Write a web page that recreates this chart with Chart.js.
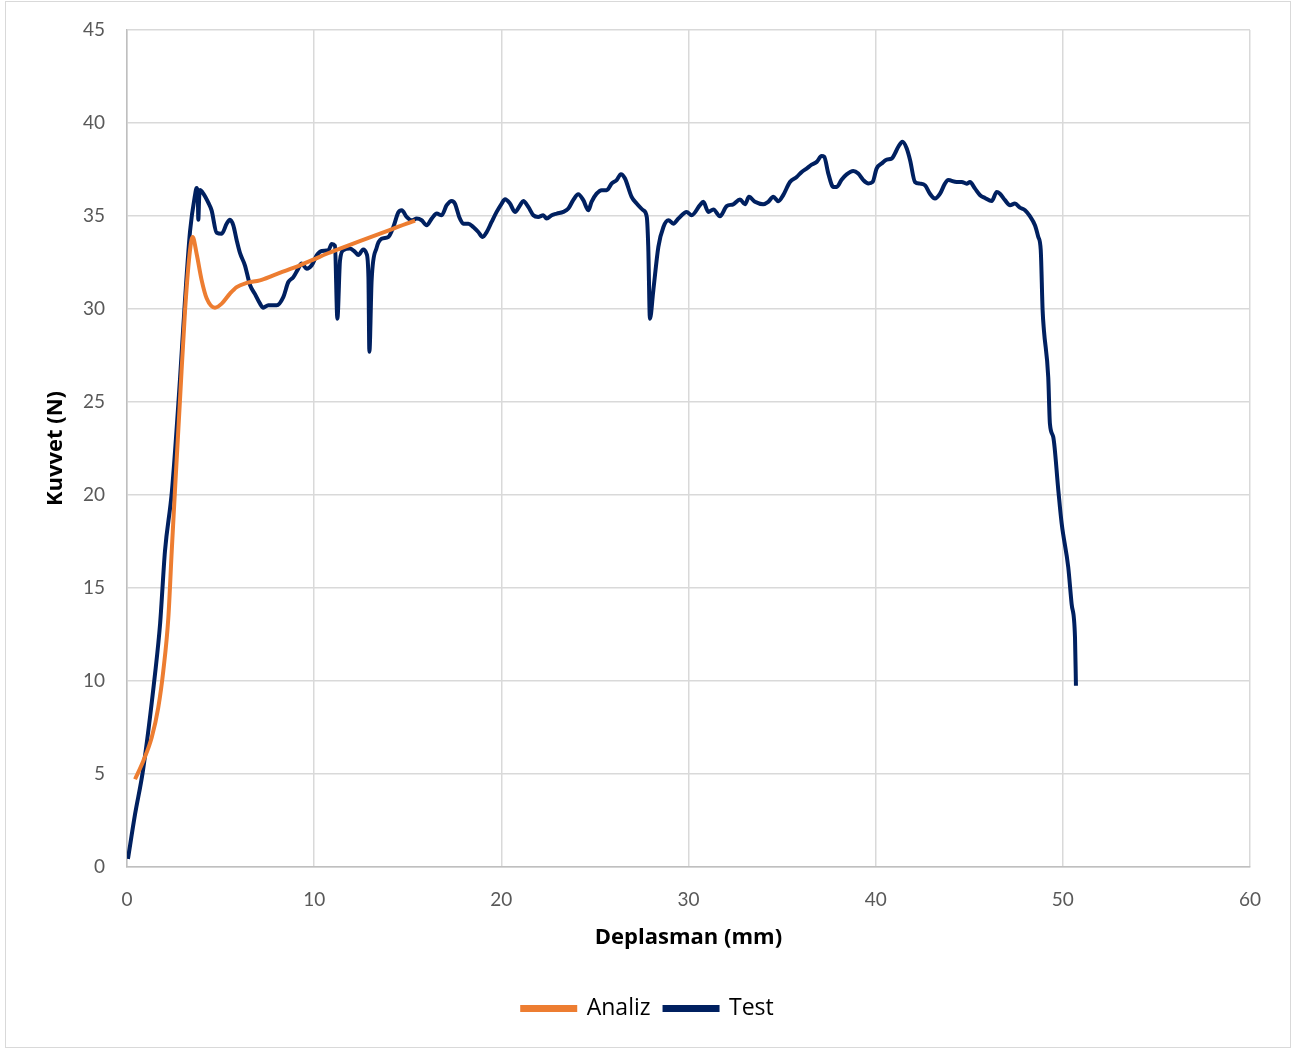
<!DOCTYPE html>
<html>
<head>
<meta charset="utf-8">
<script src="https://cdn.jsdelivr.net/npm/chart.js@4/dist/chart.umd.min.js"></script>
<style>
  html, body { margin: 0; padding: 0; background: #fff; }
  #box { position: absolute; left: 5px; top: 1px; width: 1284px; height: 1045px; border: 1px solid #d9d9d9; }
  canvas { display: block; }
</style>
</head>
<body>
<div id="box"><canvas id="chart" width="1284" height="1045"></canvas></div>
<script>
// Deplasman (mm) / Kuvvet (N)
const analizX = [0.43, 0.87, 1.32, 1.67, 1.94, 2.21, 2.39, 2.56, 2.83, 3.1, 3.37, 3.51, 3.72, 3.99, 4.26, 4.7,
  5.06, 5.5, 5.86, 6.39, 7.1, 7.82, 8.53, 9.24, 9.95, 10.67, 11.38, 12.09, 12.8, 13.52, 14.23, 14.94, 15.39];
const analizY = [4.72, 5.7, 6.96, 8.57, 10.55, 13.42, 17.0, 20.2, 25.1, 29.9, 33.2, 33.87, 32.97, 31.54, 30.56, 30.07,
  30.29, 30.83, 31.18, 31.4, 31.54, 31.81, 32.08, 32.35, 32.65, 32.97, 33.25, 33.52, 33.78, 34.05, 34.32, 34.59, 34.75];

const testX = [0.05, 0.43, 0.85, 1.5, 1.77, 2.03, 2.4, 2.83, 3.1, 3.37, 3.63, 3.72, 3.78, 3.81, 3.86, 3.9, 4.08, 4.35,
  4.52, 4.79, 5.06, 5.33, 5.5, 5.68, 5.86, 6.04, 6.3, 6.57, 6.84, 7.1, 7.28, 7.55, 8.0, 8.35, 8.62, 8.88, 9.15,
  9.33, 9.6, 9.87, 10.14, 10.4, 10.76, 10.94, 11.11, 11.24, 11.38, 11.56, 11.91, 12.18, 12.36, 12.62, 12.8, 12.9,
  12.95, 13.07, 13.34, 13.6, 13.96, 14.23, 14.5, 14.68, 14.94, 15.21, 15.48, 15.74, 16.01, 16.28, 16.55, 16.81,
  17.08, 17.35, 17.52, 17.75, 17.97, 18.24, 18.5, 18.77, 19.0, 19.22, 19.48, 19.75, 20.02, 20.2, 20.46, 20.73,
  21.0, 21.17, 21.44, 21.71, 21.97, 22.24, 22.42, 22.69, 22.96, 23.31, 23.58, 23.84, 24.11, 24.38, 24.65, 24.82,
  25.09, 25.36, 25.63, 25.9, 26.16, 26.39, 26.6, 26.96, 27.23, 27.58, 27.77, 27.85, 27.94, 28.12, 28.39, 28.66,
  28.93, 29.19, 29.46, 29.9, 30.17, 30.61, 30.79, 31.06, 31.33, 31.68, 32.04, 32.39, 32.75, 33.02, 33.23, 33.55,
  33.99, 34.26, 34.53, 34.8, 35.06, 35.42, 35.78, 36.05, 36.31, 36.58, 36.85, 37.11, 37.25, 37.47, 37.74, 37.92,
  38.18, 38.45, 38.8, 39.07, 39.34, 39.61, 39.84, 40.05, 40.32, 40.59, 40.86, 41.03, 41.21, 41.43, 41.66, 41.84,
  42.1, 42.37, 42.64, 42.9, 43.17, 43.44, 43.7, 43.88, 44.33, 44.6, 44.86, 45.04, 45.31, 45.58, 45.84, 46.2,
  46.47, 46.64, 46.91, 47.18, 47.44, 47.71, 47.98, 48.24, 48.51, 48.69, 48.82, 48.92, 48.99, 49.22, 49.31, 49.49,
  49.76, 49.94, 50.29, 50.47, 50.65, 50.7];
const testY = [0.43, 2.84, 5.17, 10.4, 13.1, 17.0, 20.2, 26.2, 30.5, 34.2, 36.1, 36.5, 36.3, 34.8, 36.1, 36.4, 36.2, 35.7,
  35.3, 34.1, 34.05, 34.6, 34.8, 34.5, 33.7, 33.0, 32.35, 31.3, 30.8, 30.3, 30.07, 30.2, 30.2, 30.64, 31.45, 31.7, 32.17,
  32.44, 32.17, 32.35, 32.89, 33.12, 33.16, 33.5, 33.4, 29.48, 32.6, 33.16, 33.25, 33.07, 32.9, 33.2, 32.97, 31.7,
  27.7, 31.54, 33.3, 33.78, 33.87, 34.41, 35.2, 35.31, 34.95, 34.77, 34.86, 34.77, 34.5, 34.86, 35.13, 35.04,
  35.58, 35.81, 35.67, 34.95, 34.59, 34.59, 34.41, 34.14, 33.87, 34.14, 34.68, 35.22, 35.67, 35.9, 35.67, 35.22,
  35.58, 35.81, 35.49, 35.04, 34.95, 35.04, 34.86, 35.04, 35.13, 35.22, 35.4, 35.85, 36.17, 35.85, 35.31, 35.76,
  36.2, 36.39, 36.39, 36.75, 36.93, 37.25, 37.03, 36.03, 35.67, 35.31, 34.95, 33.34, 29.48, 31.0, 33.34, 34.41,
  34.77, 34.59, 34.86, 35.22, 35.04, 35.58, 35.76, 35.22, 35.35, 34.99, 35.53, 35.63, 35.89, 35.63, 36.03, 35.76,
  35.63, 35.76, 36.03, 35.79, 36.12, 36.83, 37.1, 37.37, 37.55, 37.76, 37.91, 38.22, 38.18, 37.28, 36.56, 36.56,
  36.95, 37.24, 37.42, 37.28, 36.93, 36.75, 36.83, 37.55, 37.82, 38.03, 38.09, 38.36, 38.72, 38.99, 38.63, 38.0,
  36.83, 36.74, 36.65, 36.2, 35.94, 36.2, 36.74, 36.93, 36.83, 36.83, 36.74, 36.83, 36.47, 36.12, 35.97, 35.81,
  36.29, 36.2, 35.85, 35.58, 35.67, 35.45, 35.31, 34.99, 34.5, 33.87, 33.16, 29.93, 28.85, 26.34, 23.83, 23.11,
  20.24, 18.45, 16.11, 14.14, 12.34, 9.74];

const xTicks = [0, 10, 20, 30, 40, 50, 60];
const yTicks = [0, 5, 10, 15, 20, 25, 30, 35, 40, 45];

const toPoints = (xs, ys) => xs.map((x, i) => ({ x: x, y: ys[i] }));
const FONT = 'Lato, "Open Sans", sans-serif';
const TITLE_FONT = '"Open Sans", sans-serif';

new Chart(document.getElementById('chart'), {
  type: 'scatter',
  data: {
    datasets: [
      { label: 'Analiz', data: toPoints(analizX, analizY), showLine: true, borderColor: '#ED7D31',
        backgroundColor: '#ED7D31', borderWidth: 4, pointRadius: 0, cubicInterpolationMode: 'monotone' },
      { label: 'Test', data: toPoints(testX, testY), showLine: true, borderColor: '#002060',
        backgroundColor: '#002060', borderWidth: 4, pointRadius: 0, cubicInterpolationMode: 'monotone' }
    ]
  },
  options: {
    responsive: false,
    animation: false,
    layout: { padding: { left: 0, right: 0, top: 28, bottom: 17 } },
    plugins: {
      tooltip: { enabled: false },
      legend: {
        position: 'bottom',
        labels: { boxWidth: 53, boxHeight: 3, padding: 14, color: '#000', font: { family: TITLE_FONT, size: 23 } }
      }
    },
    scales: {
      x: {
        type: 'linear', min: 0, max: 60,
        afterBuildTicks: s => { s.ticks = xTicks.map(v => ({ value: v })); },
        afterFit: s => { s.height = 116; s.paddingLeft = 0; s.paddingRight = 40; },
        grid: { color: '#d9d9d9', lineWidth: 1.5, drawTicks: false },
        border: { color: '#bfbfbf', width: 1.5 },
        ticks: { padding: 21, color: '#595959', font: { family: FONT, size: 19 } },
        title: { display: true, text: 'Deplasman (mm)', color: '#000', padding: { top: 0, bottom: 32 },
          font: { family: TITLE_FONT, size: 22, weight: 'bold' } }
      },
      y: {
        min: 0, max: 45,
        afterBuildTicks: s => { s.ticks = yTicks.map(v => ({ value: v })); },
        afterFit: s => { s.width = 121; s.paddingTop = 0; s.paddingBottom = 0; },
        grid: { color: '#d9d9d9', lineWidth: 1.5, drawTicks: false },
        border: { color: '#bfbfbf', width: 1.5 },
        ticks: { padding: 22, color: '#595959', font: { family: FONT, size: 19 } },
        title: { display: true, text: 'Kuvvet (N)', color: '#000', padding: { top: 37, bottom: 0 },
          font: { family: TITLE_FONT, size: 22, weight: 'bold' } }
      }
    }
  }
});
</script>
</body>
</html>
